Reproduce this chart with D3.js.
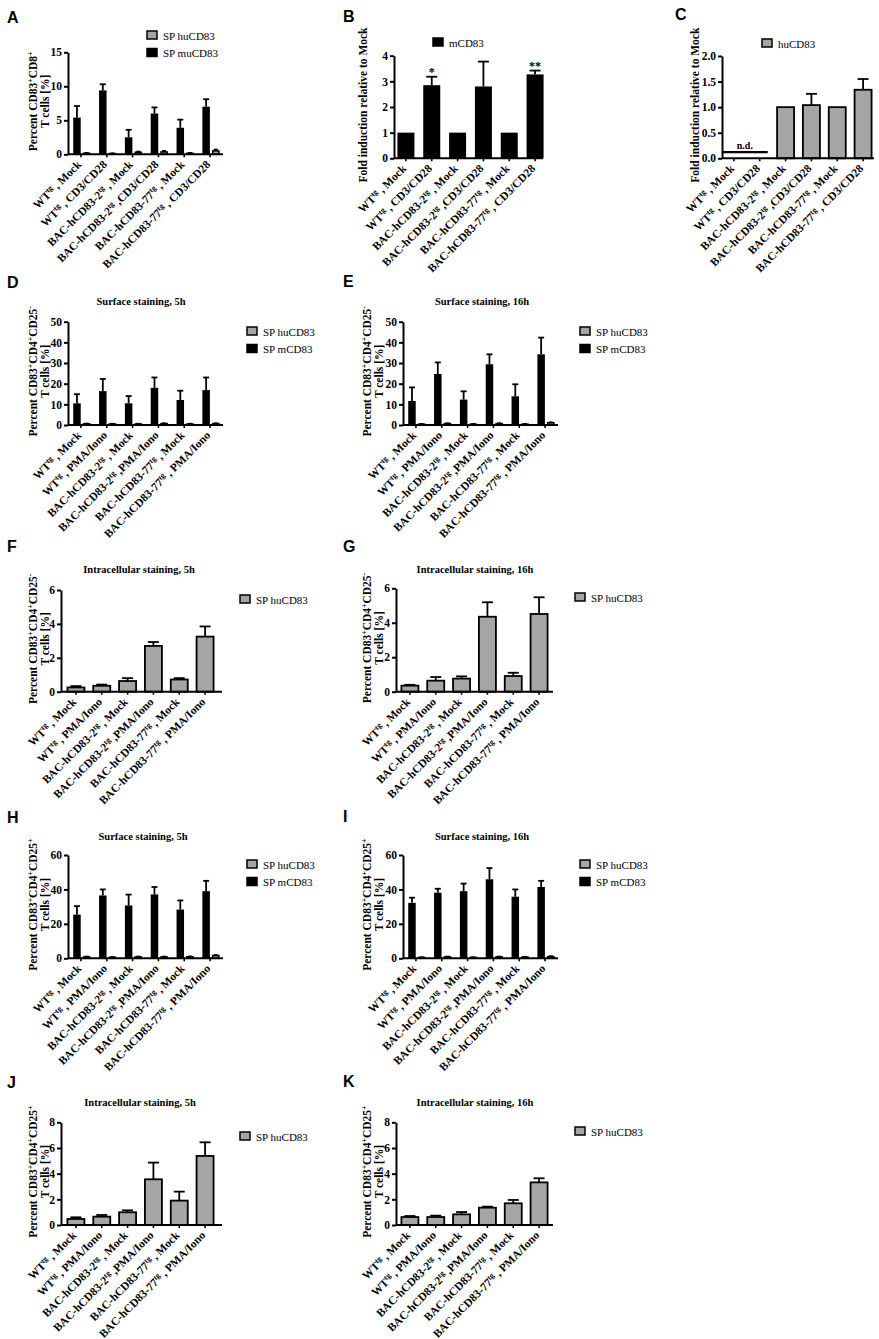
<!DOCTYPE html>
<html><head><meta charset="utf-8">
<script src="https://cdn.jsdelivr.net/npm/d3@7/dist/d3.min.js"></script>
<style>body{margin:0;background:#fff}svg{display:block}</style>
</head><body>
<svg id="fig" width="879" height="1339"></svg>
<script>
// ---------------- DATA ----------------
const categoriesCD3 = ["WT^tg , Mock","WT^tg , CD3/CD28","BAC-hCD83-2^tg , Mock","BAC-hCD83-2^tg ,CD3/CD28","BAC-hCD83-77^tg , Mock","BAC-hCD83-77^tg , CD3/CD28"];
const categoriesPMA = ["WT^tg , Mock","WT^tg , PMA/Iono","BAC-hCD83-2^tg , Mock","BAC-hCD83-2^tg ,PMA/Iono","BAC-hCD83-77^tg , Mock","BAC-hCD83-77^tg , PMA/Iono"];

const ticksA = [0,5,10,15];
const ticksB = [0,1,2,3,4];
const ticksC = [0,0.5,1,1.5,2];
const ticks50 = [0,10,20,30,40,50];
const ticks6 = [0,2,4,6];
const ticks60 = [0,20,40,60];
const ticks8 = [0,2,4,6,8];

// A: CD8+ T cells, % CD83+
const aHu = [0.15,0.1,0.3,0.35,0.15,0.5];
const aHuErr = [0.05,0.05,0.1,0.15,0.05,0.2];
const aMu = [5.4,9.4,2.5,6.0,3.9,7.0];
const aMuErr = [1.7,0.9,1.1,0.9,1.2,1.1];
// B: fold induction mCD83
const bMu = [1,2.85,1,2.8,1,3.27];
const bMuErr = [0,0.33,0,0.97,0,0.15];
const bStars = ["","*","","","","**"];
// C: fold induction huCD83
const cHu = [null,null,1,1.04,1,1.34];
const cHuErr = [0,0,0,0.22,0,0.21];
const cNd = 0.12;
// D: surface 5h CD25-
const dHu = [0.6,0.5,0.5,0.7,0.5,0.7];
const dHuErr = [0.1,0.1,0.1,0.1,0.1,0.1];
const dMu = [10.5,16.4,10.5,18.0,12.1,16.9];
const dMuErr = [4.4,5.9,3.5,5.0,4.5,6.1];
// E: surface 16h CD25-
const eHu = [0.4,0.7,0.4,0.7,0.4,1.1];
const eHuErr = [0.1,0.1,0.1,0.1,0.1,0.2];
const eMu = [11.6,24.7,12.3,29.4,13.9,34.2];
const eMuErr = [6.6,5.6,4.0,4.8,5.8,8.1];
// F: intracellular 5h CD25-
const fHu = [0.25,0.35,0.63,2.7,0.72,3.25];
const fHuErr = [0.08,0.07,0.17,0.23,0.08,0.6];
// G: intracellular 16h CD25-
const gHu = [0.35,0.64,0.76,4.35,0.91,4.51];
const gHuErr = [0.05,0.21,0.13,0.84,0.19,0.97];
// H: surface 5h CD25+
const hHu = [0.8,0.6,0.8,0.8,0.9,1.6];
const hHuErr = [0.2,0.1,0.2,0.2,0.2,0.3];
const hMu = [25.4,36.5,30.7,37.1,28.3,39.0];
const hMuErr = [4.9,3.5,6.3,4.3,5.3,6.0];
// I: surface 16h CD25+
const iHu = [0.5,0.8,0.5,0.8,0.7,1.0];
const iHuErr = [0.1,0.2,0.1,0.2,0.1,0.2];
const iMu = [32.2,38.1,39.0,45.9,35.8,41.4];
const iMuErr = [3.0,2.3,4.4,6.5,4.2,3.6];
// J: intracellular 5h CD25+
const jHu = [0.47,0.65,0.99,3.56,1.9,5.38];
const jHuErr = [0.13,0.13,0.15,1.3,0.7,1.06];
// K: intracellular 16h CD25+
const kHu = [0.62,0.62,0.83,1.35,1.69,3.32];
const kHuErr = [0.08,0.11,0.18,0.08,0.26,0.32];

// ---------------- STYLE / LAYOUT ----------------
const SERIF = "'Liberation Serif','Times New Roman',serif";
const SANS = "'Liberation Sans',Arial,sans-serif";
const GREY = "#a5a5a5";
const BLACK = "#000";
const STEP_SPAN = 155;

const ylabCD8 = ["Percent CD83^+CD8^+","T cells [%]"];
const ylabFold = ["Fold induction relative to Mock"];
const ylabNeg = ["Percent CD83^+CD4^+CD25^-","T cells [%]"];
const ylabPos = ["Percent CD83^+CD4^+CD25^+","T cells [%]"];

const panels = [
 {letter:"A", lp:[7,23], cats:categoriesCD3, max:15, ticks:ticksA, fmt:d3.format("d"),
  ax:68, xr0:68, xEnd:223, y0:154.3, y1:52.3, type:"grouped",
  s1:aMu, e1:aMuErr, s2:aHu, e2:aHuErr, ylab:ylabCD8, ylx:[37,49],
  legend:{x:147,y:31,items:[["SP huCD83",GREY],["SP muCD83",BLACK]]}},
 {letter:"B", lp:[343,22], cats:categoriesCD3, max:4, ticks:ticksB, fmt:d3.format("d"),
  ax:394, xr0:393, xEnd:543, y0:158.3, y1:55.7, type:"single", color:BLACK,
  s1:bMu, e1:bMuErr, stars:bStars, ylab:ylabFold, ylx:[367],
  legend:{x:433,y:38,items:[["mCD83",BLACK]]}},
 {letter:"C", lp:[675,20], cats:categoriesCD3, max:2, ticks:ticksC, fmt:d3.format(".1f"),
  ax:722, xr0:721, xEnd:874, y0:158.3, y1:56, type:"single", color:GREY,
  s1:cHu, e1:cHuErr, nd:cNd, ylab:ylabFold, ylx:[699],
  legend:{x:762,y:39,items:[["huCD83",GREY]]}},
 {letter:"D", lp:[7,288], title:"Surface staining, 5h", tp:[141,305], cats:categoriesPMA, max:50, ticks:ticks50, fmt:d3.format("d"),
  ax:68, xr0:68, xEnd:223, y0:425, y1:321.7, type:"grouped",
  s1:dMu, e1:dMuErr, s2:dHu, e2:dHuErr, ylab:ylabNeg, ylx:[37,49],
  legend:{x:247,y:327,items:[["SP huCD83",GREY],["SP mCD83",BLACK]]}},
 {letter:"E", lp:[343,287], title:"Surface staining, 16h", tp:[482,305], cats:categoriesPMA, max:50, ticks:ticks50, fmt:d3.format("d"),
  ax:403, xr0:403, xEnd:558, y0:425, y1:321.7, type:"grouped",
  s1:eMu, e1:eMuErr, s2:eHu, e2:eHuErr, ylab:ylabNeg, ylx:[371,383],
  legend:{x:580,y:327,items:[["SP huCD83",GREY],["SP mCD83",BLACK]]}},
 {letter:"F", lp:[7,552], title:"Intracellular staining, 5h", tp:[139,573], cats:categoriesPMA, max:6, ticks:ticks6, fmt:d3.format("d"),
  ax:61, xr0:63, xEnd:222, y0:691.7, y1:590, type:"single", color:GREY,
  s1:fHu, e1:fHuErr, ylab:ylabNeg, ylx:[37,49],
  legend:{x:240,y:595,items:[["SP huCD83",GREY]]}},
 {letter:"G", lp:[343,552], title:"Intracellular staining, 16h", tp:[475,573], cats:categoriesPMA, max:6, ticks:ticks6, fmt:d3.format("d"),
  ax:396, xr0:397, xEnd:553, y0:691.7, y1:588.3, type:"single", color:GREY,
  s1:gHu, e1:gHuErr, ylab:ylabNeg, ylx:[371,383],
  legend:{x:575,y:593,items:[["SP huCD83",GREY]]}},
 {letter:"H", lp:[7,823], title:"Surface staining, 5h", tp:[143,840], cats:categoriesPMA, max:60, ticks:ticks60, fmt:d3.format("d"),
  ax:68, xr0:68, xEnd:223, y0:958.3, y1:855, type:"grouped",
  s1:hMu, e1:hMuErr, s2:hHu, e2:hHuErr, ylab:ylabPos, ylx:[37,49],
  legend:{x:247,y:860,items:[["SP huCD83",GREY],["SP mCD83",BLACK]]}},
 {letter:"I", lp:[343,822], title:"Surface staining, 16h", tp:[482,840], cats:categoriesPMA, max:60, ticks:ticks60, fmt:d3.format("d"),
  ax:403, xr0:403, xEnd:558, y0:958.3, y1:855, type:"grouped",
  s1:iMu, e1:iMuErr, s2:iHu, e2:iHuErr, ylab:ylabPos, ylx:[371,383],
  legend:{x:580,y:860,items:[["SP huCD83",GREY],["SP mCD83",BLACK]]}},
 {letter:"J", lp:[7,1088], title:"Intracellular staining, 5h", tp:[140,1106], cats:categoriesPMA, max:8, ticks:ticks8, fmt:d3.format("d"),
  ax:61, xr0:63, xEnd:222, y0:1225, y1:1122.3, type:"single", color:GREY,
  s1:jHu, e1:jHuErr, ylab:ylabPos, ylx:[37,49],
  legend:{x:240,y:1132,items:[["SP huCD83",GREY]]}},
 {letter:"K", lp:[343,1087], title:"Intracellular staining, 16h", tp:[475,1106], cats:categoriesPMA, max:8, ticks:ticks8, fmt:d3.format("d"),
  ax:396, xr0:397, xEnd:553, y0:1225, y1:1122.3, type:"single", color:GREY,
  s1:kHu, e1:kHuErr, ylab:ylabPos, ylx:[371,383],
  legend:{x:575,y:1127,items:[["SP huCD83",GREY]]}}
];

// ---------------- DRAW ----------------
const svg = d3.select("#fig");

function rich(textSel, str) {
  const parts = str.split(/\^(tg|\+|-)/);
  parts.forEach((p, i) => {
    if (!p) return;
    const t = textSel.append("tspan").text(p);
    if (i % 2 === 1) t.attr("baseline-shift", "super").attr("font-size", "68%");
  });
}

function drawPanel(p) {
  const g = svg.append("g");
  const y = d3.scaleLinear().domain([0, p.max]).range([p.y0, p.y1]);
  const x = d3.scaleBand().domain(p.cats).range([p.xr0, p.xr0 + STEP_SPAN]).paddingInner(0).paddingOuter(0);
  const cx = c => x(c) + x.bandwidth() / 2;

  g.append("text").attr("x", p.lp[0]).attr("y", p.lp[1])
    .attr("font-family", SANS).attr("font-weight", "bold").attr("font-size", 16).text(p.letter);

  if (p.title) {
    g.append("text").attr("x", p.tp[0]).attr("y", p.tp[1]).attr("text-anchor", "middle")
      .attr("font-family", SERIF).attr("font-weight", "bold").attr("font-size", 10.5).text(p.title);
  }

  const bars = g.append("g");
  const errs = g.append("g");
  function errBar(xc, v, e, capW) {
    if (v == null || !e) return;
    errs.append("line").attr("x1", xc).attr("x2", xc).attr("y1", y(v)).attr("y2", y(v + e))
      .attr("stroke", BLACK).attr("stroke-width", 1.8);
    errs.append("line").attr("x1", xc - capW / 2).attr("x2", xc + capW / 2).attr("y1", y(v + e)).attr("y2", y(v + e))
      .attr("stroke", BLACK).attr("stroke-width", 1.8);
  }
  if (p.type === "grouped") {
    p.cats.forEach((c, i) => {
      const m = cx(c);
      bars.append("rect").attr("x", m - 7.7).attr("width", 7.5)
        .attr("y", y(p.s1[i])).attr("height", y(0) - y(p.s1[i])).attr("fill", BLACK);
      errBar(m - 3.95, p.s1[i], p.e1[i], 6);
      bars.append("rect").attr("x", m + 2.6).attr("width", 6.2)
        .attr("y", y(p.s2[i])).attr("height", Math.max(0, y(0) - y(p.s2[i])))
        .attr("fill", GREY).attr("stroke", BLACK).attr("stroke-width", 1.5);
      errBar(m + 5.7, p.s2[i], p.e2[i], 4);
    });
  } else {
    p.cats.forEach((c, i) => {
      const v = p.s1[i];
      if (v == null) return;
      const m = cx(c);
      bars.append("rect").attr("x", m - 8.5).attr("width", 17)
        .attr("y", y(v)).attr("height", y(0) - y(v))
        .attr("fill", p.color).attr("stroke", BLACK).attr("stroke-width", p.color === BLACK ? 0 : 1.8);
      errBar(m, v, p.e1[i], 11);
      if (p.stars && p.stars[i]) {
        g.append("text").attr("x", m).attr("y", y(v + p.e1[i]) - 1).attr("text-anchor", "middle")
          .attr("font-family", SERIF).attr("font-weight", "bold").attr("font-size", 12).text(p.stars[i]);
      }
    });
    if (p.nd != null) {
      const c0 = cx(p.cats[0]), c1 = cx(p.cats[1]);
      g.append("line").attr("x1", c0 - 12).attr("x2", c1 + 8).attr("y1", y(p.nd)).attr("y2", y(p.nd))
        .attr("stroke", BLACK).attr("stroke-width", 2.4);
      g.append("text").attr("x", (c0 + c1) / 2 - 2).attr("y", y(p.nd) - 3).attr("text-anchor", "middle")
        .attr("font-family", SERIF).attr("font-weight", "bold").attr("font-size", 10).text("n.d.");
    }
  }

  const ya = d3.axisLeft(y).tickValues(p.ticks).tickFormat(p.fmt).tickSize(4).tickSizeOuter(0).tickPadding(2);
  const yg = g.append("g").attr("transform", `translate(${p.ax},0)`).call(ya);
  yg.select(".domain").attr("stroke-width", 2);
  yg.selectAll(".tick line").attr("stroke-width", 2);
  yg.selectAll(".tick text").attr("font-family", SERIF).attr("font-weight", "bold").attr("font-size", 11.5).attr("fill", BLACK);

  const xa = d3.axisBottom(x).tickSize(3).tickFormat("");
  const xg = g.append("g").attr("transform", `translate(0,${p.y0})`).call(xa);
  xg.select(".domain").remove();
  xg.selectAll(".tick line").attr("stroke-width", 1.6);
  g.append("line").attr("x1", p.ax).attr("x2", p.xEnd).attr("y1", p.y0).attr("y2", p.y0)
    .attr("stroke", BLACK).attr("stroke-width", 2);

  p.cats.forEach(c => {
    const t = g.append("text").attr("transform", `translate(${cx(c) + 1},${p.y0 + 11}) rotate(-45)`)
      .attr("text-anchor", "end").attr("font-family", SERIF).attr("font-weight", "bold").attr("font-size", 11.5);
    rich(t, c);
  });

  const ymid = (p.y0 + p.y1) / 2 - 2;
  p.ylab.forEach((line, k) => {
    const t = g.append("text").attr("transform", `translate(${p.ylx[k]},${ymid}) rotate(-90)`)
      .attr("text-anchor", "middle").attr("font-family", SERIF).attr("font-weight", "bold").attr("font-size", 11.5);
    rich(t, line);
  });

  const lg = g.append("g");
  p.legend.items.forEach((it, k) => {
    const yy = p.legend.y + k * 17.5;
    lg.append("rect").attr("x", p.legend.x).attr("y", yy).attr("width", 10).attr("height", 8)
      .attr("fill", it[1]).attr("stroke", BLACK).attr("stroke-width", 1.5);
    lg.append("text").attr("x", p.legend.x + 16).attr("y", yy + 8.5)
      .attr("font-family", SERIF).attr("font-size", 11).text(it[0]);
  });
}

panels.forEach(drawPanel);
</script>
</body></html>
